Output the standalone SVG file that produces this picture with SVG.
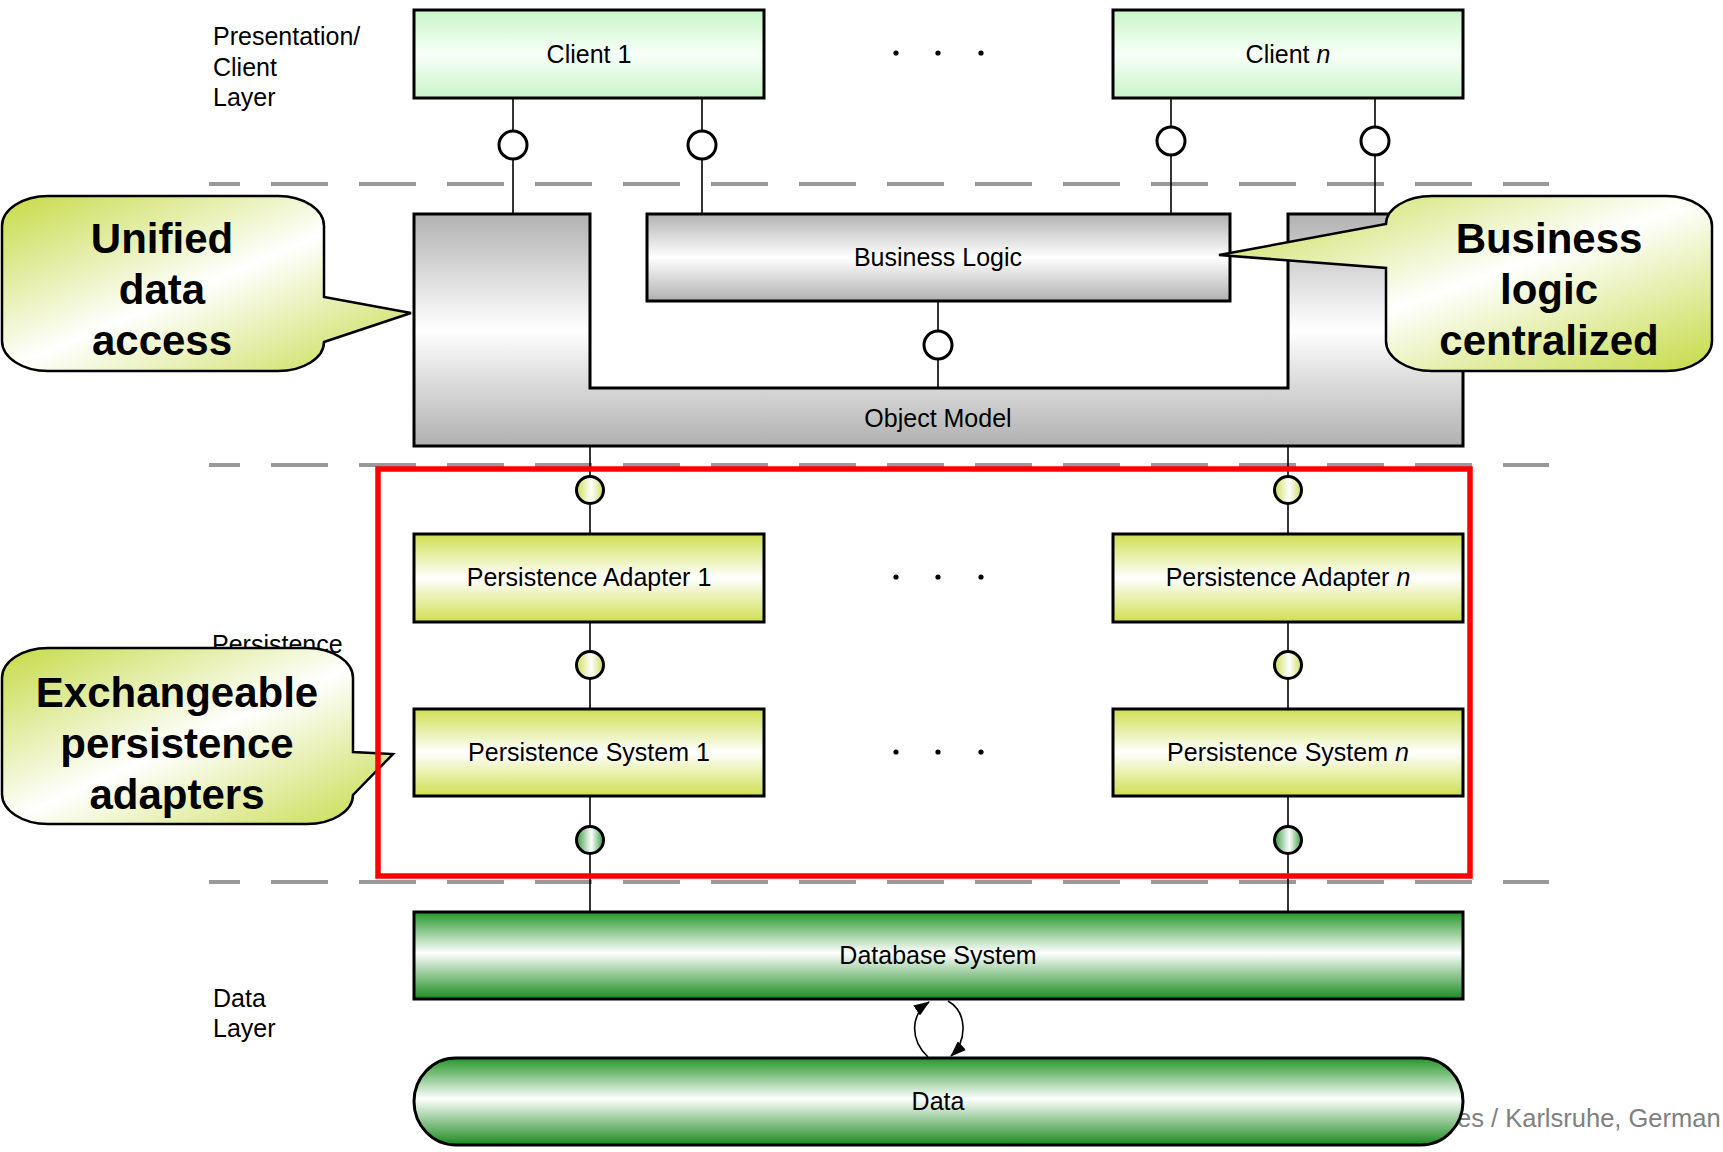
<svg xmlns="http://www.w3.org/2000/svg" width="1723" height="1152" viewBox="0 0 1723 1152">
<defs>
<style>
.box{stroke:#000;stroke-width:3}
.lbl{font-family:"Liberation Sans",Arial,sans-serif;font-size:25px;fill:#000;text-anchor:middle}
.layer{font-family:"Liberation Sans",Arial,sans-serif;font-size:25px;fill:#000}
.call{stroke:#000;stroke-width:2.5;fill:url(#gCall)}
.ctxt{font-family:"Liberation Sans",Arial,sans-serif;font-size:42px;font-weight:bold;fill:#000;text-anchor:middle}
.dash{stroke:#999;stroke-width:4;stroke-dasharray:57 31;stroke-dashoffset:26;fill:none}
.conn{stroke:#000;stroke-width:1.6;fill:none}
.lol{stroke:#000;stroke-width:3}
.dot{fill:#000}
</style>
<linearGradient id="gClient" x1="0" y1="0" x2="0" y2="1">
<stop offset="0" stop-color="#c8f5c8"/><stop offset="0.5" stop-color="#f8fff8"/><stop offset="1" stop-color="#c8f5c8"/>
</linearGradient>
<linearGradient id="gGray" x1="0" y1="0" x2="0" y2="1">
<stop offset="0" stop-color="#b2b2b2"/><stop offset="0.5" stop-color="#ffffff"/><stop offset="1" stop-color="#b0b0b0"/>
</linearGradient>
<linearGradient id="gYel" x1="0" y1="0" x2="0" y2="1">
<stop offset="0" stop-color="#cfdf50"/><stop offset="0.5" stop-color="#ffffff"/><stop offset="1" stop-color="#cfdf50"/>
</linearGradient>
<linearGradient id="gGreen" x1="0" y1="0" x2="0" y2="1">
<stop offset="0" stop-color="#259629"/><stop offset="0.47" stop-color="#ffffff"/><stop offset="1" stop-color="#1a8a1e"/>
</linearGradient>
<linearGradient id="gCall" x1="0" y1="0" x2="1" y2="1">
<stop offset="0" stop-color="#c5da45"/><stop offset="0.5" stop-color="#ffffff"/><stop offset="1" stop-color="#c5da45"/>
</linearGradient>
<linearGradient id="gLolY" x1="0" y1="0" x2="1" y2="0">
<stop offset="0" stop-color="#cddc5a"/><stop offset="0.55" stop-color="#ffffff"/><stop offset="1" stop-color="#cddc5a"/>
</linearGradient>
<linearGradient id="gLolG" x1="0" y1="0" x2="1" y2="0">
<stop offset="0" stop-color="#3a9a45"/><stop offset="0.55" stop-color="#ffffff"/><stop offset="1" stop-color="#3a9a45"/>
</linearGradient>
<marker id="arr" markerUnits="userSpaceOnUse" markerWidth="16" markerHeight="12" refX="15" refY="6" orient="auto">
<path d="M0,0 L16,6 L0,12 Z" fill="#000"/>
</marker>
</defs>

<g id="layers">
<line class="dash" x1="209" y1="184" x2="1549" y2="184"/>
<line class="dash" x1="209" y1="465" x2="1549" y2="465"/>
<line class="dash" x1="209" y1="882" x2="1549" y2="882"/>
<text class="layer" x="213" y="45">Presentation/</text>
<text class="layer" x="213" y="76">Client</text>
<text class="layer" x="213" y="106">Layer</text>
<text class="layer" x="212" y="653">Persistence</text>
<text class="layer" x="213" y="1007">Data</text>
<text class="layer" x="213" y="1037">Layer</text>
<text x="1457" y="1127" font-family="Liberation Sans, Arial, sans-serif" font-size="25.5" fill="#808080">es / Karlsruhe, German</text>
</g>

<g id="connectors">
<line class="conn" x1="513" y1="98" x2="513" y2="214"/>
<line class="conn" x1="702" y1="98" x2="702" y2="214"/>
<line class="conn" x1="1171" y1="98" x2="1171" y2="214"/>
<line class="conn" x1="1375" y1="98" x2="1375" y2="214"/>
<line class="conn" x1="938" y1="301" x2="938" y2="388"/>
<line class="conn" x1="590" y1="446" x2="590" y2="534"/>
<line class="conn" x1="590" y1="622" x2="590" y2="709"/>
<line class="conn" x1="590" y1="796" x2="590" y2="912"/>
<line class="conn" x1="1288" y1="446" x2="1288" y2="534"/>
<line class="conn" x1="1288" y1="622" x2="1288" y2="709"/>
<line class="conn" x1="1288" y1="796" x2="1288" y2="912"/>
<path class="conn" d="M928,1057 C910,1040 910,1015 929,1002" marker-end="url(#arr)"/>
<path class="conn" d="M948,1001 C967,1012 968,1040 951,1056" marker-end="url(#arr)"/>
<circle class="lol" cx="513" cy="145" r="14" fill="#fff"/>
<circle class="lol" cx="702" cy="145" r="14" fill="#fff"/>
<circle class="lol" cx="1171" cy="141" r="14" fill="#fff"/>
<circle class="lol" cx="1375" cy="141" r="14" fill="#fff"/>
<circle class="lol" cx="938" cy="345" r="14" fill="#fff"/>
<circle class="lol" cx="590" cy="490" r="13.5" fill="url(#gLolY)"/>
<circle class="lol" cx="590" cy="665" r="13.5" fill="url(#gLolY)"/>
<circle class="lol" cx="590" cy="840" r="13.5" fill="url(#gLolG)"/>
<circle class="lol" cx="1288" cy="490" r="13.5" fill="url(#gLolY)"/>
<circle class="lol" cx="1288" cy="665" r="13.5" fill="url(#gLolY)"/>
<circle class="lol" cx="1288" cy="840" r="13.5" fill="url(#gLolG)"/>
</g>

<g id="client1"><rect class="box" x="414" y="10" width="350" height="88" fill="url(#gClient)"/><text class="lbl" x="589" y="63">Client 1</text></g>
<g id="clientn"><rect class="box" x="1113" y="10" width="350" height="88" fill="url(#gClient)"/><text class="lbl" x="1288" y="63">Client <tspan font-style="italic">n</tspan></text></g>
<g id="dots-clients"><circle class="dot" cx="896" cy="53" r="2.6"/><circle class="dot" cx="938" cy="53" r="2.6"/><circle class="dot" cx="981" cy="53" r="2.6"/></g>

<g id="objectmodel"><path class="box" d="M414,214 H590 V388 H1288 V214 H1463 V446 H414 Z" fill="url(#gGray)"/><text class="lbl" x="938" y="427">Object Model</text></g>
<g id="businesslogic"><rect class="box" x="647" y="214" width="583" height="87" fill="url(#gGray)"/><text class="lbl" x="938" y="266">Business Logic</text></g>

<g id="pa1"><rect class="box" x="414" y="534" width="350" height="88" fill="url(#gYel)"/><text class="lbl" x="589" y="586">Persistence Adapter 1</text></g>
<g id="pan"><rect class="box" x="1113" y="534" width="350" height="88" fill="url(#gYel)"/><text class="lbl" x="1288" y="586">Persistence Adapter <tspan font-style="italic">n</tspan></text></g>
<g id="ps1"><rect class="box" x="414" y="709" width="350" height="87" fill="url(#gYel)"/><text class="lbl" x="589" y="761">Persistence System 1</text></g>
<g id="psn"><rect class="box" x="1113" y="709" width="350" height="87" fill="url(#gYel)"/><text class="lbl" x="1288" y="761">Persistence System <tspan font-style="italic">n</tspan></text></g>
<g id="dots-persist"><circle class="dot" cx="896" cy="577" r="2.6"/><circle class="dot" cx="938" cy="577" r="2.6"/><circle class="dot" cx="981" cy="577" r="2.6"/><circle class="dot" cx="896" cy="752" r="2.6"/><circle class="dot" cx="938" cy="752" r="2.6"/><circle class="dot" cx="981" cy="752" r="2.6"/></g>

<g id="database"><rect class="box" x="414" y="912" width="1049" height="87" fill="url(#gGreen)"/><text class="lbl" x="938" y="964">Database System</text></g>
<g id="data"><rect class="box" x="414" y="1058" width="1049" height="87" rx="42" ry="43.5" fill="url(#gGreen)"/><text class="lbl" x="938" y="1110">Data</text></g>

<g id="callout-unified"><path class="call" d="M48,196 H278 A46,30 0 0 1 324,226 V297 L411,313 L324,342 A46,29 0 0 1 278,371 H48 A46,30 0 0 1 2,341 V226 A46,30 0 0 1 48,196 Z"/>
<text class="ctxt" x="162" y="253">Unified</text><text class="ctxt" x="162" y="304">data</text><text class="ctxt" x="162" y="355">access</text></g>
<g id="callout-business"><path class="call" d="M1386,224 A46,28 0 0 1 1432,196 H1666 A46,30 0 0 1 1712,226 V341 A46,30 0 0 1 1666,371 H1432 A46,30 0 0 1 1386,341 V268 L1219,255 Z"/>
<text class="ctxt" x="1549" y="253">Business</text><text class="ctxt" x="1549" y="304">logic</text><text class="ctxt" x="1549" y="355">centralized</text></g>
<g id="callout-exchange"><path class="call" d="M48,648 H307 A46,30 0 0 1 353,678 V752 L393,754 L353,795 A46,29 0 0 1 307,824 H48 A46,30 0 0 1 2,794 V678 A46,30 0 0 1 48,648 Z"/>
<text class="ctxt" x="177" y="707">Exchangeable</text><text class="ctxt" x="177" y="758">persistence</text><text class="ctxt" x="177" y="809">adapters</text></g>

<g id="highlight"><rect x="378" y="469" width="1092" height="407" fill="none" stroke="#ff0000" stroke-width="5.5"/></g>
</svg>
